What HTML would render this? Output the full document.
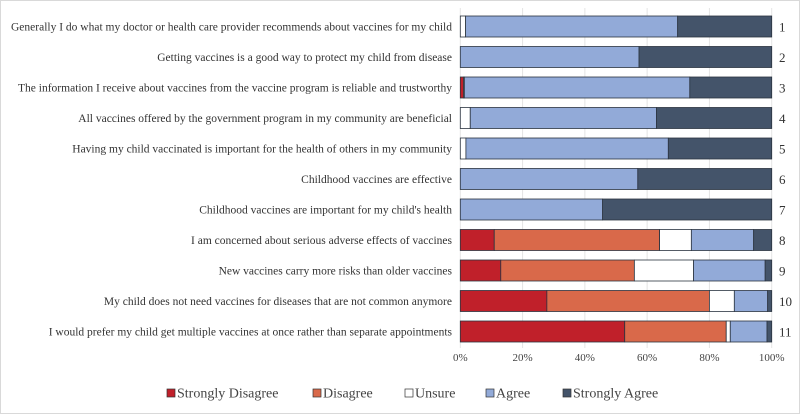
<!DOCTYPE html>
<html><head><meta charset="utf-8"><style>
body{margin:0;background:#fff;}
svg{display:block;font-family:"Liberation Serif",serif;}
</style></head><body>
<svg width="800" height="414">
<rect x="0.5" y="0.5" width="799" height="413" fill="#fff" stroke="#d9d9d9"/>
<g id="grid"></g><g id="bars"></g><g id="labels"></g><g id="legend"></g>
</svg>
<script>
const categories=["Generally I do what my doctor or health care provider recommends about vaccines for my child","Getting vaccines is a good way to protect my child from disease","The information I receive about vaccines from the vaccine program is reliable and trustworthy","All vaccines offered by the government program in my community are beneficial","Having my child vaccinated is important for the health of others in my community","Childhood vaccines are effective","Childhood vaccines are important for my child's health","I am concerned about serious adverse effects of vaccines","New vaccines carry more risks than older vaccines","My child does not need vaccines for diseases that are not common anymore","I would prefer my child get multiple vaccines at once rather than separate appointments"];
const seriesNames=["Strongly Disagree","Disagree","Unsure","Agree","Strongly Agree"];
const stronglyDisagree=[0,0,1.0,0,0,0,0,10.9,13.0,27.8,52.8];
const disagree=[0,0,0.3,0,0,0,0,53.1,42.9,52.2,32.6];
const unsure=[1.7,0,0,3.2,1.8,0,0,10.2,19.0,8.0,1.3];
const agree=[68.1,57.4,72.4,59.8,65.0,57.0,45.7,20.0,23.0,10.7,11.8];
const stronglyAgree=[30.2,42.6,26.3,37.0,33.2,43.0,54.3,5.8,2.1,1.3,1.5];
const ticks=[0,20,40,60,80,100];
const colors=["#c0202a","#d9694a","#ffffff","#92aad8","#44546a"];
const NS="http://www.w3.org/2000/svg";
const X0=460.3,X1=771.7;
const x=v=>X0+(X1-X0)*v/100;
const y=i=>16+i*30.5;
const BH=21;
function mk(t,a,p){const e=document.createElementNS(NS,t);for(const k in a)e.setAttribute(k,a[k]);p.appendChild(e);return e;}
const grid=document.getElementById('grid'),bars=document.getElementById('bars'),labels=document.getElementById('labels'),legend=document.getElementById('legend');
ticks.forEach(t=>{
 const l=mk('line',{x1:x(t),x2:x(t),y1:8,y2:348,stroke:'#e4e4e4'},grid);
 
 
 const tx=mk('text',{x:x(t),y:361,'text-anchor':'middle','font-size':11,fill:'#444'},grid);
 tx.textContent=t+'%';
 
 
});
const series=[stronglyDisagree,disagree,unsure,agree,stronglyAgree];
categories.forEach((c,i)=>{
 let acc=0;
 series.forEach((s,k)=>{
  const v=s[i];
  if(v>0){
   const r=mk('rect',{x:x(acc),y:y(i),width:x(acc+v)-x(acc),height:BH,fill:colors[k],stroke:'#2b3440','stroke-width':0.8},bars);
   
   
  }
  acc+=v;
 });
 const t=mk('text',{x:452,y:y(i)+BH/2+4,'text-anchor':'end','font-size':11.5,fill:'#333'},labels);
 t.textContent=c;
 
 
 const n=mk('text',{x:779,y:y(i)+BH/2+5,'font-size':13,fill:'#333'},labels);
 n.textContent=String(i+1);
 
 
});
const lx=[167,313,405,486,563];
seriesNames.forEach((s,k)=>{
 const b=mk('rect',{x:lx[k],y:389,width:8,height:8,fill:colors[k],stroke:'#333','stroke-width':0.7},legend);
 
 
 const t=mk('text',{x:lx[k]+10,y:397.5,'font-size':14,fill:'#444'},legend);
 t.textContent=s;
 
 
});
</script>
</body></html>
